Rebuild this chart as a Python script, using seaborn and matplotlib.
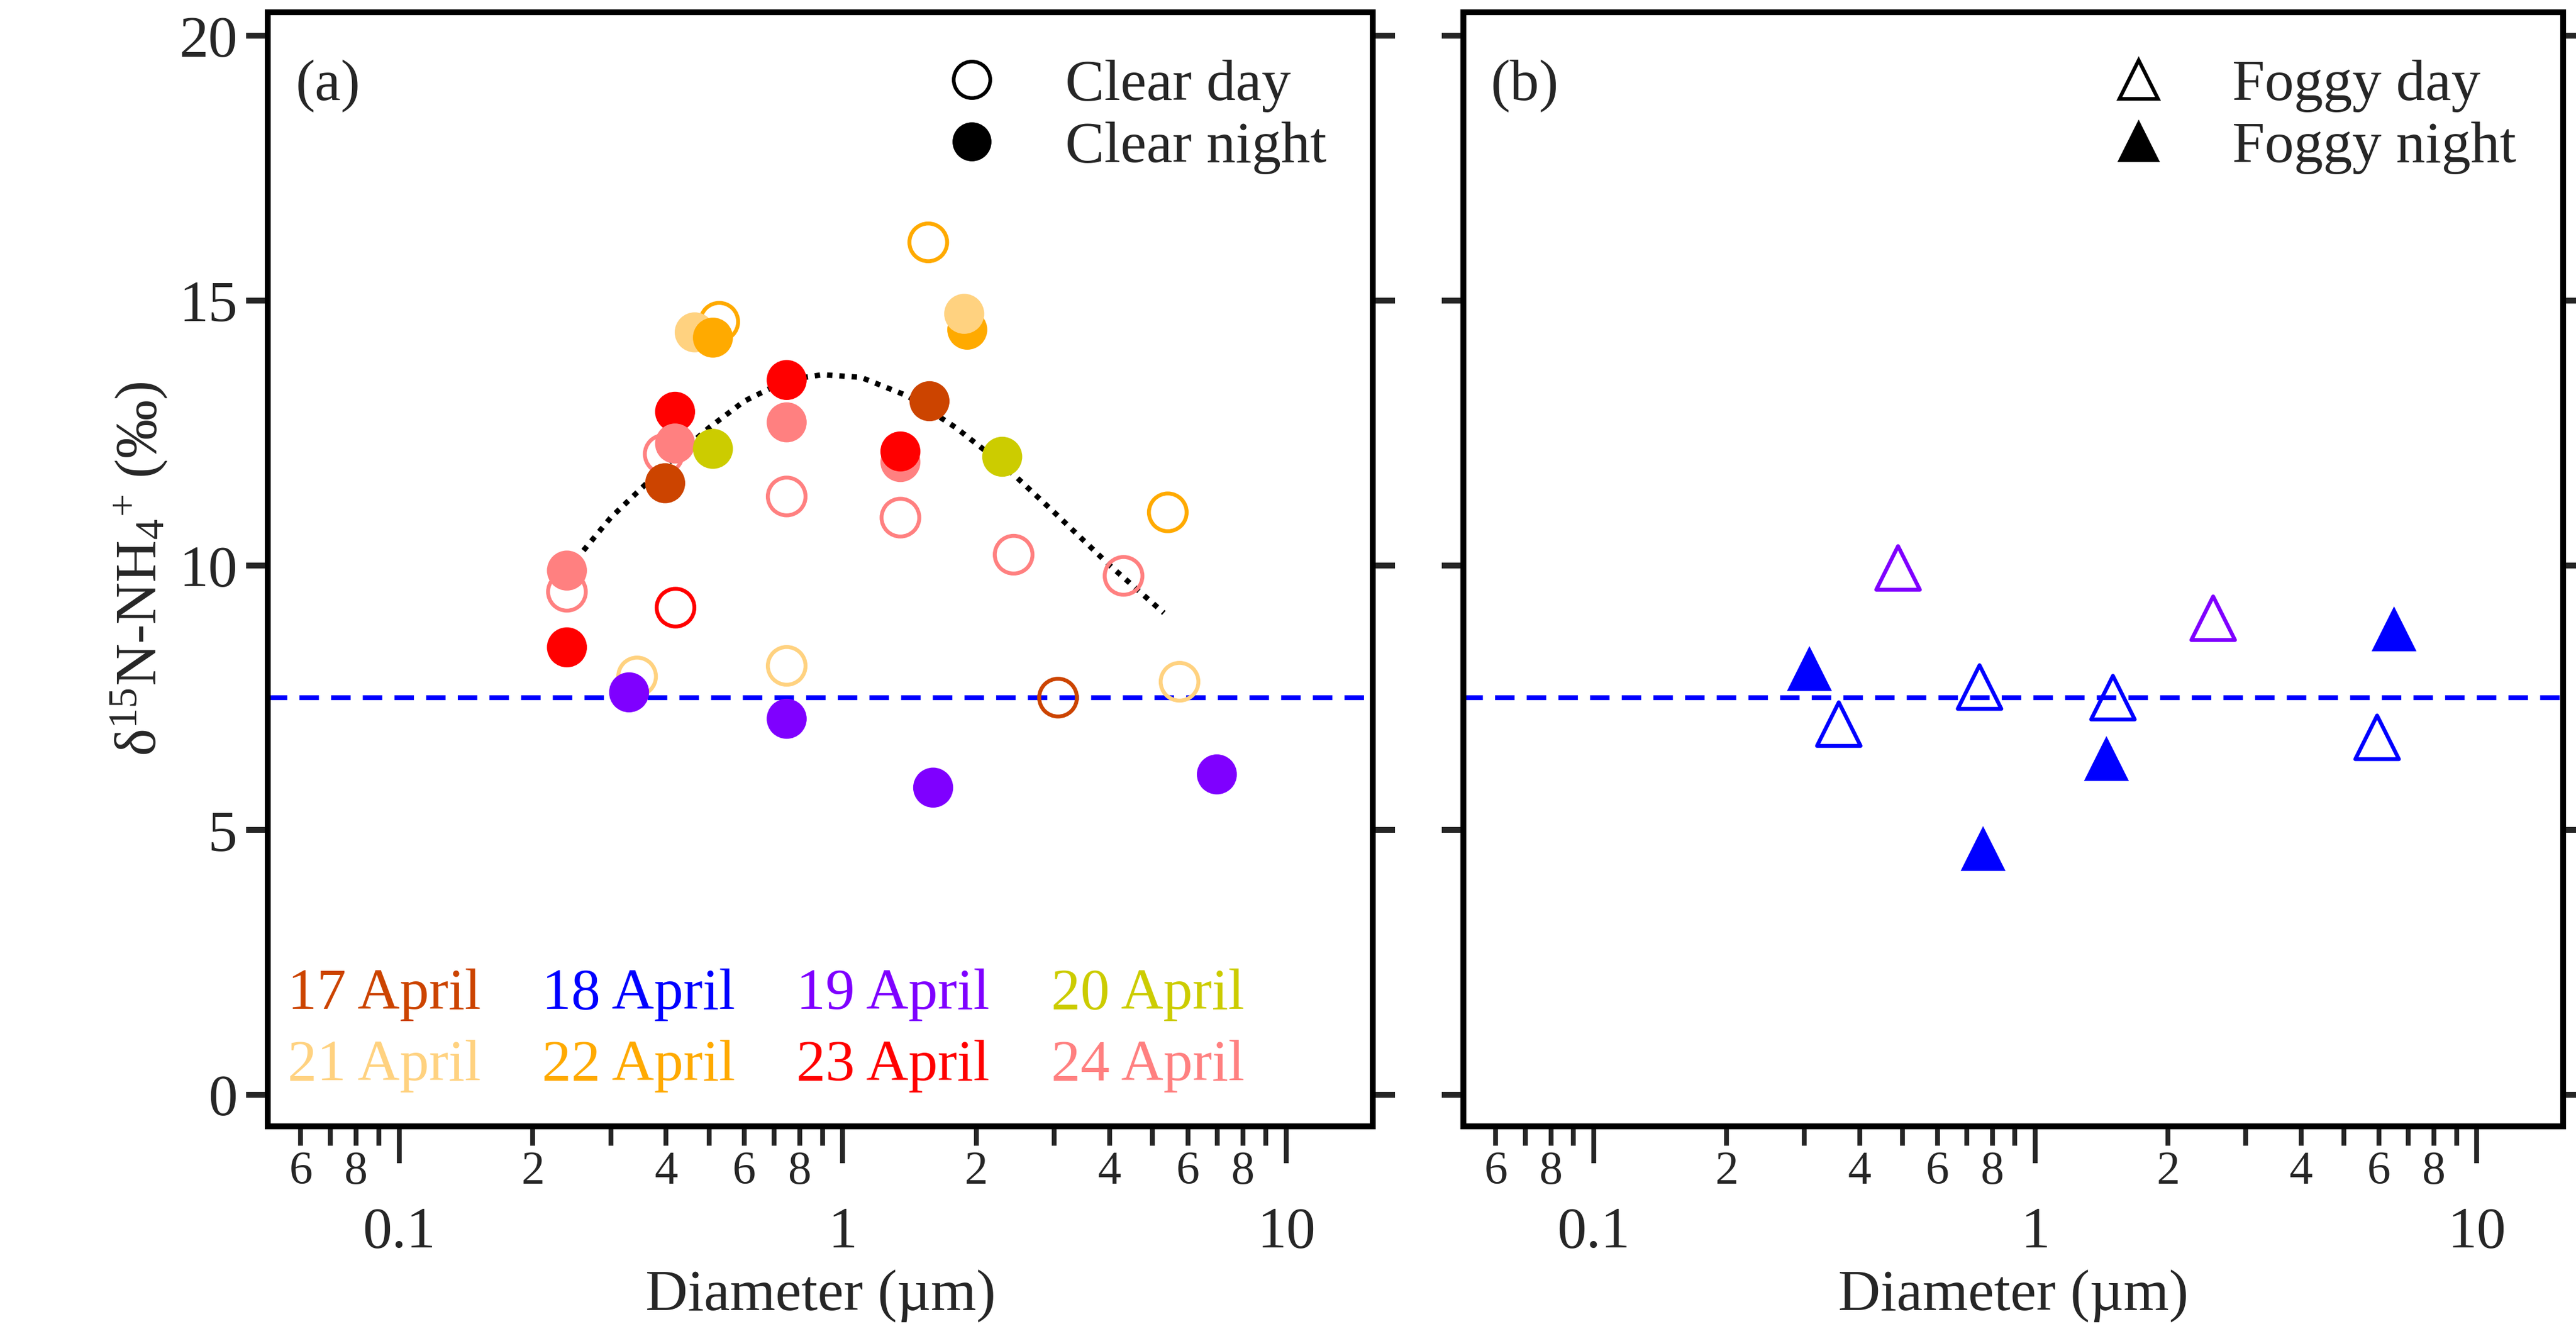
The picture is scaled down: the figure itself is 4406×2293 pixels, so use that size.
import numpy as np
import pandas as pd
import matplotlib
matplotlib.use("Agg")
import matplotlib.pyplot as plt
import seaborn as sns
from matplotlib.lines import Line2D
from matplotlib.ticker import LogLocator, FixedLocator, FixedFormatter

sns.set_theme(style="ticks")
plt.rcParams['font.family'] = ['Liberation Serif', 'DejaVu Serif']
plt.rcParams['mathtext.fontset'] = 'custom'
plt.rcParams['mathtext.rm'] = 'Liberation Serif'
plt.rcParams['mathtext.it'] = 'Liberation Serif:italic'

dates = ["17 April", "18 April", "19 April", "20 April", "21 April", "22 April", "23 April", "24 April"]
date_colors = ["#CC4400", "#0000FF", "#7F00FF", "#CCCC00", "#FFD280", "#FFAA00", "#FF0000", "#FF8080"]
palette = dict(zip(dates, date_colors))

# Panel (a) clear day (open)
cd_x = [0.239, 0.344, 0.395, 0.42, 0.527, 0.748, 0.748, 1.35, 1.56, 2.43, 3.06, 4.30, 5.41, 5.75]
cd_y = [9.5, 7.9, 12.1, 9.2, 14.6, 11.3, 8.1, 10.9, 16.1, 10.2, 7.5, 9.8, 11.0, 7.8]
cd_d = ["24 April", "21 April", "24 April", "23 April", "22 April", "24 April", "21 April", "24 April",
        "22 April", "24 April", "17 April", "24 April", "22 April", "21 April"]
# Panel (a) clear night (filled)
cn_x = [0.239, 0.239, 0.330, 0.398, 0.419, 0.419, 0.464, 0.510, 0.510, 0.748, 0.748, 0.748,
        1.35, 1.35, 1.57, 1.60, 1.91, 1.88, 2.29, 6.98]
cn_y = [9.9, 8.45, 7.6, 11.55, 12.9, 12.3, 14.4, 14.3, 12.2, 13.5, 12.7, 7.1,
        11.95, 12.15, 13.1, 5.8, 14.45, 14.75, 12.05, 6.05]
cn_d = ["24 April", "23 April", "19 April", "17 April", "23 April", "24 April", "21 April", "22 April",
        "20 April", "23 April", "24 April", "19 April", "24 April", "23 April", "17 April", "19 April",
        "22 April", "21 April", "20 April", "19 April"]
# Fitted curve (dotted)
fit_x = [0.25, 0.3, 0.4, 0.5, 0.6, 0.75, 0.9, 1.1, 1.4, 1.8, 2.3, 3.0, 4.0, 5.3]
fit_y = [10.1, 10.9, 11.9, 12.6, 13.1, 13.5, 13.6, 13.55, 13.2, 12.6, 11.9, 11.0, 10.0, 9.1]
# Panel (b) foggy day (open) and foggy night (filled)
fd_x = [0.359, 0.489, 0.748, 1.50, 2.53, 5.95]
fd_y = [7.0, 9.95, 7.7, 7.5, 9.0, 6.75]
fd_d = ["18 April", "19 April", "18 April", "18 April", "19 April", "18 April"]
fn_x = [0.308, 0.762, 1.45, 6.5]
fn_y = [8.05, 4.65, 6.35, 8.8]
fn_d = ["18 April", "18 April", "18 April", "18 April"]
ref_line = 7.5

cd = pd.DataFrame(dict(x=cd_x, y=cd_y, d=cd_d))
cn = pd.DataFrame(dict(x=cn_x, y=cn_y, d=cn_d))
fd = pd.DataFrame(dict(x=fd_x, y=fd_y, d=fd_d))
fn = pd.DataFrame(dict(x=fn_x, y=fn_y, d=fn_d))

fig = plt.figure(figsize=(4406/300, 2293/300), dpi=300)
axa = fig.add_axes([0.104, 0.16, 0.429, 0.831])
axb = fig.add_axes([0.568, 0.16, 0.427, 0.831])

FS = 24
def minor_fmt(v, p):
    m = int(round(v / 10 ** np.floor(np.log10(v) + 1e-9)))
    return str(m) if m in (2, 4, 6, 8) else ""

for ax in (axa, axb):
    ax.set_xscale('log')
    ax.set_xlim(0.0506, 15.7)
    ax.set_ylim(-0.6, 20.45)
    ax.axhline(ref_line, color='#0000FF', ls=(0, (4, 2.5)), lw=2, zorder=1)
    for s in ax.spines.values():
        s.set_linewidth(2.4)
        s.set_color('black')
    ax.set_yticks([0, 5, 10, 15, 20])
    ax.tick_params(axis='y', direction='out', length=9, width=2.4, labelsize=FS, right=True)
    ax.xaxis.set_major_locator(FixedLocator([0.1, 1, 10]))
    ax.xaxis.set_major_formatter(FixedFormatter(["0.1", "1", "10"]))
    ax.xaxis.set_minor_locator(LogLocator(base=10, subs=np.arange(2, 10)))
    ax.xaxis.set_minor_formatter(plt.FuncFormatter(minor_fmt))
    ax.tick_params(axis='x', which='major', direction='out', length=15, width=2, labelsize=FS, pad=18)
    ax.tick_params(axis='x', which='minor', direction='out', length=8, width=2, labelsize=FS * 0.8, pad=2)
    ax.set_xlabel("Diameter (µm)", fontsize=FS, labelpad=4)

# Panel a
axa.plot(fit_x, fit_y, ls=(0, (1, 1.3)), color='black', lw=2.2, zorder=2)
for dname, g in cd.groupby('d'):
    axa.scatter(g.x, g.y, s=240, facecolors='none', edgecolors=palette[dname], linewidths=1.6, zorder=3)
sns.scatterplot(data=cn, x='x', y='y', hue='d', palette=palette, s=270, edgecolor='none',
                ax=axa, legend=False, zorder=4)
axa.set_xlabel("Diameter (µm)", fontsize=FS, labelpad=4)
axa.set_ylabel(r"δ$^{15}$N-NH$_4$$^{+}$ (‰)", fontsize=FS)

cols = [0.018, 0.248, 0.478, 0.709]
for i, (dname, c) in enumerate(zip(dates, date_colors)):
    axa.text(cols[i % 4], 0.118 if i < 4 else 0.054, dname, color=c, fontsize=FS,
             transform=axa.transAxes, ha='left', va='center')
axa.text(0.025, 0.934, "(a)", transform=axa.transAxes, fontsize=FS, va='center')
h = [Line2D([], [], marker='o', ls='none', mfc='none', mec='black', ms=15, mew=1.5),
     Line2D([], [], marker='o', ls='none', mfc='black', mec='black', ms=15)]
axa.legend(h, ["Clear day", "Clear night"], loc='upper right', frameon=False, fontsize=FS,
           handletextpad=0.6, labelspacing=0.15, borderaxespad=0.4)

# Panel b
for dname, g in fd.groupby('d'):
    axb.scatter(g.x, g.y, s=320, marker='^', facecolors='none', edgecolors=palette[dname], linewidths=1.6, zorder=3)
sns.scatterplot(data=fn, x='x', y='y', hue='d', palette=palette, s=340, marker='^', edgecolor='none',
                ax=axb, legend=False, zorder=4)
axb.set_xlabel("Diameter (µm)", fontsize=FS, labelpad=4)
axb.set_ylabel("")
axb.tick_params(axis='y', labelleft=False)
axb.text(0.025, 0.934, "(b)", transform=axb.transAxes, fontsize=FS, va='center')
h2 = [Line2D([], [], marker='^', ls='none', mfc='none', mec='black', ms=16, mew=1.5),
      Line2D([], [], marker='^', ls='none', mfc='black', mec='black', ms=16)]
axb.legend(h2, ["Foggy day", "Foggy night"], loc='upper right', frameon=False, fontsize=FS,
           handletextpad=0.6, labelspacing=0.15, borderaxespad=0.4)

fig.savefig("out.png", dpi=300)
